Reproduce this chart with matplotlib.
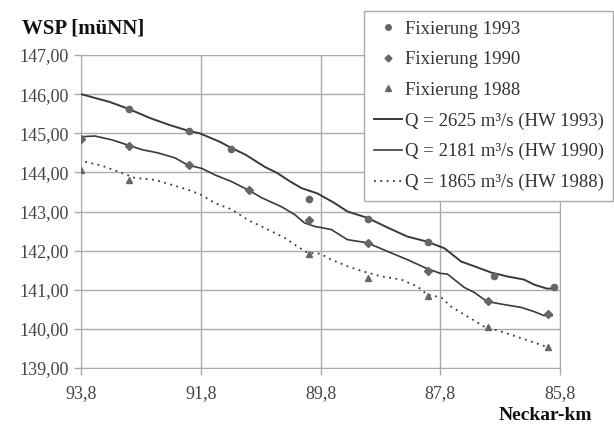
import matplotlib
matplotlib.use("Agg")
import matplotlib.pyplot as plt
from matplotlib.lines import Line2D
from matplotlib.ticker import FuncFormatter

# Fixierungen (measured water levels)
km_1993 = [93.0, 92.0, 91.3, 90.0, 89.0, 88.0, 86.9, 85.9]
wsp_1993 = [145.62, 145.06, 144.60, 143.33, 142.82, 142.23, 141.36, 141.06]
km_1990 = [93.8, 93.0, 92.0, 91.0, 90.0, 89.0, 88.0, 87.0, 86.0]
wsp_1990 = [144.86, 144.68, 144.19, 143.56, 142.77, 142.20, 141.49, 140.70, 140.37]
km_1988 = [93.8, 93.0, 90.0, 89.0, 88.0, 87.0, 86.0]
wsp_1988 = [144.05, 143.81, 141.92, 141.31, 140.85, 140.06, 139.53]

# computed water level profiles
km_q2625 = [93.8, 93.32, 93.0, 92.65, 92.32, 92.0, 91.82, 91.48, 91.32, 91.05,
            90.73, 90.53, 90.32, 90.12, 89.85, 89.57, 89.35, 89.02, 88.68, 88.35,
            88.02, 87.73, 87.45, 87.23, 86.95, 86.68, 86.4, 86.23, 86.02, 85.9]
wsp_q2625 = [146.0, 145.80, 145.62, 145.39, 145.21, 145.06, 145.0, 144.78, 144.65, 144.45,
             144.14, 143.99, 143.78, 143.6, 143.46, 143.22, 143.0, 142.84, 142.59, 142.36,
             142.23, 142.06, 141.72, 141.6, 141.44, 141.34, 141.26, 141.13, 141.03, 141.03]
km_q2181 = [93.8, 93.57, 93.28, 93.02, 92.78, 92.52, 92.23, 92.02, 91.78, 91.57,
            91.28, 91.02, 90.78, 90.45, 90.23, 90.07, 89.9, 89.62, 89.35, 89.02,
            88.68, 88.35, 88.02, 87.8, 87.68, 87.4, 87.23, 87.02, 86.73, 86.45,
            86.23, 86.07, 85.93]
wsp_q2181 = [144.91, 144.93, 144.83, 144.7, 144.58, 144.5, 144.37, 144.19, 144.1, 143.94,
             143.76, 143.56, 143.35, 143.12, 142.92, 142.71, 142.62, 142.54, 142.28, 142.2,
             141.98, 141.77, 141.54, 141.42, 141.4, 141.06, 140.93, 140.7, 140.62, 140.55,
             140.44, 140.34, 140.34]
km_q1865 = [93.73, 93.45, 93.18, 92.9, 92.57, 92.28, 92.02, 91.8, 91.57, 91.28,
            91.02, 90.68, 90.4, 90.18, 90.02, 89.8, 89.62, 89.35, 89.07, 88.78,
            88.45, 88.18, 88.02, 87.78, 87.62, 87.35, 87.07, 86.78, 86.52, 86.23, 86.0]
wsp_q1865 = [144.27, 144.17, 144.02, 143.86, 143.81, 143.68, 143.56, 143.43, 143.22, 143.05,
             142.79, 142.54, 142.33, 142.1, 141.95, 141.92, 141.77, 141.6, 141.46, 141.34,
             141.26, 141.08, 140.88, 140.8, 140.57, 140.32, 140.06, 139.93, 139.8, 139.65, 139.53]

x_ticks = [93.8, 91.8, 89.8, 87.8, 85.8]
y_ticks = [139, 140, 141, 142, 143, 144, 145, 146, 147]

plt.rcParams['font.family'] = ['Liberation Serif', 'DejaVu Serif']

fig = plt.figure(figsize=(6.14, 4.26), dpi=100)
ax = fig.add_axes([81 / 614, 1 - 368 / 426, (560 - 81) / 614, (368 - 55) / 426])

line_col = "#3a3a3a"
mark_col = "#666666"

ax.plot(km_q2625, wsp_q2625, color=line_col, lw=1.4, zorder=3)
ax.plot(km_q2181, wsp_q2181, color=line_col, lw=1.2, zorder=3)
ax.plot(km_q1865, wsp_q1865, color=line_col, lw=1.3, linestyle=(0, (1, 2.5)), zorder=3)

ax.plot(km_1993, wsp_1993, "o", color=mark_col, ms=4.5, zorder=4)
ax.plot(km_1990, wsp_1990, "D", color=mark_col, ms=4.2, zorder=4)
ax.plot(km_1988, wsp_1988, "^", color=mark_col, ms=5, zorder=4)

ax.set_xlim(93.8, 85.8)
ax.set_ylim(139, 147)
ax.set_xticks(x_ticks)
ax.set_yticks(y_ticks)
ax.xaxis.set_major_formatter(FuncFormatter(lambda v, p: f"{v:.1f}".replace(".", ",")))
ax.yaxis.set_major_formatter(FuncFormatter(lambda v, p: f"{v:.2f}".replace(".", ",")))
ax.grid(True, color="#aaaaaa", lw=1.0)
ax.set_axisbelow(True)
for s in ax.spines.values():
    s.set_color("#aaaaaa")
ax.tick_params(axis="both", colors="#aaaaaa", length=5, width=1.0,
               labelcolor="#444444", labelsize=13)
ax.tick_params(axis="x", pad=7)
ax.tick_params(axis="y", pad=4)

fig.text(22 / 614, 1 - 28 / 426, "WSP [müNN]", fontsize=15, fontweight="bold",
         va="center", ha="left", color="#111111")
fig.text(592 / 614, 1 - 424 / 426, "Neckar-km", fontsize=14, fontweight="bold",
         va="bottom", ha="right", color="#111111")

handles = [
    Line2D([], [], ls="none", marker="o", color=mark_col, ms=4),
    Line2D([], [], ls="none", marker="D", color=mark_col, ms=3.5),
    Line2D([], [], ls="none", marker="^", color=mark_col, ms=4.5),
    Line2D([], [], color=line_col, lw=1.4),
    Line2D([], [], color=line_col, lw=1.2),
    Line2D([], [], color=line_col, lw=1.3, linestyle=(0, (1, 2.5))),
]
labels = ["Fixierung 1993", "Fixierung 1990", "Fixierung 1988",
          "Q = 2625 m³/s (HW 1993)", "Q = 2181 m³/s (HW 1990)",
          "Q = 1865 m³/s (HW 1988)"]
leg = fig.legend(handles, labels, loc="upper right",
                 bbox_to_anchor=(613 / 614, 1 - 11 / 426),
                 fontsize=13.5, handlelength=1.5, handletextpad=0.15,
                 labelspacing=0.72, borderpad=0.5, borderaxespad=0,
                 fancybox=False, framealpha=1, edgecolor="#aaaaaa")
for t in leg.get_texts():
    t.set_color("#333333")

fig.savefig("out.png", dpi=100)
